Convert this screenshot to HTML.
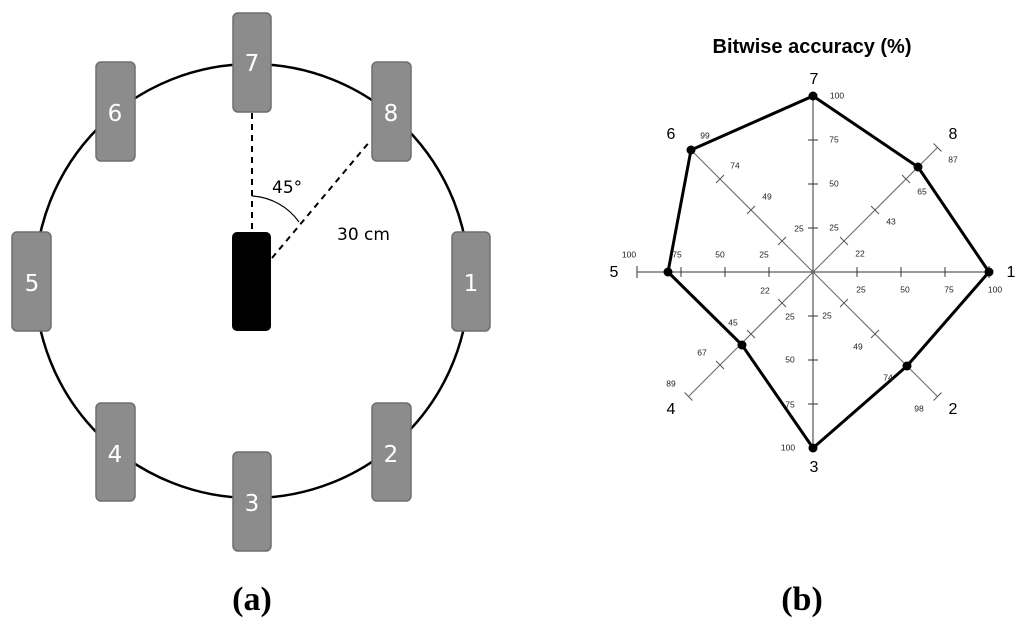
<!DOCTYPE html>
<html><head><meta charset="utf-8"><style>
html,body{margin:0;padding:0;background:#fff;}
svg{display:block;}
</style></head><body>
<svg width="1024" height="626" viewBox="0 0 1024 626" xmlns="http://www.w3.org/2000/svg">
<!-- Left diagram -->
<circle cx="252" cy="281" r="217" fill="none" stroke="#000" stroke-width="2.5"/>
<line x1="252" y1="113" x2="252" y2="231" stroke="#000" stroke-width="2" stroke-dasharray="6,5"/>
<line x1="272" y1="258" x2="371" y2="140" stroke="#000" stroke-width="2" stroke-dasharray="6,5"/>
<path d="M252 196 A62 62 0 0 1 299 222" fill="none" stroke="#000" stroke-width="1.2"/>
<g fill="#8c8c8c" stroke="#6e6e6e" stroke-width="1.5">
<rect x="233" y="13" width="38" height="99" rx="5"/>
<rect x="96" y="62" width="39" height="99" rx="5"/>
<rect x="372" y="62" width="39" height="99" rx="5"/>
<rect x="12" y="232" width="39" height="99" rx="5"/>
<rect x="452" y="232" width="38" height="99" rx="5"/>
<rect x="96" y="403" width="39" height="98" rx="5"/>
<rect x="372" y="403" width="39" height="98" rx="5"/>
<rect x="233" y="452" width="38" height="99" rx="5"/>
</g>
<rect x="232" y="232" width="39" height="99" rx="5" fill="#000"/>
<g font-family="DejaVu Sans, Liberation Sans, sans-serif" font-size="23" fill="#fff" text-anchor="middle">
<text x="252" y="71">7</text>
<text x="115" y="121">6</text>
<text x="391" y="121">8</text>
<text x="32" y="291">5</text>
<text x="471" y="291">1</text>
<text x="115" y="462">4</text>
<text x="391" y="462">2</text>
<text x="252" y="511">3</text>
</g>
<g font-family="DejaVu Sans, Liberation Sans, sans-serif" font-size="17" fill="#000">
<text x="272" y="193">45°</text>
<text x="337" y="240">30 cm</text>
</g>
<text x="252" y="610" text-anchor="middle" font-family="Liberation Serif, serif" font-size="34" font-weight="bold">(a)</text>
<text x="802" y="610" text-anchor="middle" font-family="Liberation Serif, serif" font-size="34" font-weight="bold">(b)</text>

<!-- Radar -->
<text x="812" y="53" text-anchor="middle" font-family="Liberation Sans, sans-serif" font-size="20" font-weight="bold">Bitwise accuracy (%)</text>
<g stroke="#333" stroke-width="1" fill="none">
<line x1="637" y1="272" x2="989" y2="272"/>
<line x1="813" y1="96" x2="813" y2="448"/>
<line x1="688.5" y1="147.5" x2="937.5" y2="396.5" stroke="#666"/>
<line x1="688.5" y1="396.5" x2="937.5" y2="147.5" stroke="#666"/>
<path d="M637 266V278 M681 267V277 M725 267V277 M769 267V277 M857 267V277 M901 267V277 M945 267V277 M989 266V278
M808 140H818 M808 184H818 M808 228H818 M808 316H818 M808 360H818 M808 404H818"/>
</g>
<g stroke="#555" stroke-width="1" fill="none">
<path d="M840 237l8 8 M871 206l8 8 M902 175l8 8 M933.5 143.5l8 8
M778 245l8 -8 M747 214l8 -8 M716 183l8 -8
M778 299l8 8 M747 330l8 8 M716 361l8 8 M684.5 392.5l8 8
M840 307l8 -8 M871 338l8 -8 M902 369l8 -8 M933.5 400.5l8 -8"/>
</g>
<polygon points="989,272 907,366 813,448 742,345 668,272 691,150 813,96 918,167" fill="none" stroke="#000" stroke-width="3" stroke-linejoin="round"/>
<g fill="#000">
<circle cx="989" cy="272" r="4.5"/><circle cx="907" cy="366" r="4.5"/><circle cx="813" cy="448" r="4.5"/><circle cx="742" cy="345" r="4.5"/>
<circle cx="668" cy="272" r="4.5"/><circle cx="691" cy="150" r="4.5"/><circle cx="813" cy="96" r="4.5"/><circle cx="918" cy="167" r="4.5"/>
</g>
<g font-family="Liberation Sans, sans-serif" font-size="16" text-anchor="middle" dominant-baseline="middle">
<text x="1011" y="273">1</text><text x="614" y="273">5</text><text x="814" y="80">7</text><text x="814" y="468">3</text>
<text x="953" y="135">8</text><text x="671" y="135">6</text><text x="671" y="410">4</text><text x="953" y="410">2</text>
</g>
<g font-family="Liberation Sans, sans-serif" font-size="8.5" fill="#222" text-anchor="middle" dominant-baseline="middle">
<text x="837" y="96">100</text><text x="834" y="140">75</text><text x="834" y="184">50</text><text x="834" y="228">25</text><text x="799" y="229">25</text>
<text x="861" y="290">25</text><text x="905" y="290">50</text><text x="949" y="290">75</text><text x="995" y="290">100</text>
<text x="629" y="255">100</text><text x="677" y="255">75</text><text x="720" y="255">50</text><text x="764" y="255">25</text>
<text x="827" y="316">25</text><text x="790" y="317">25</text><text x="790" y="360">50</text><text x="790" y="405">75</text><text x="788" y="448">100</text>
<text x="953" y="160">87</text><text x="922" y="192">65</text><text x="891" y="222">43</text><text x="860" y="254">22</text>
<text x="705" y="136">99</text><text x="735" y="166">74</text><text x="767" y="197">49</text>
<text x="765" y="291">22</text><text x="733" y="323">45</text><text x="702" y="353">67</text><text x="671" y="384">89</text>
<text x="858" y="347">49</text><text x="888" y="378">74</text><text x="919" y="409">98</text>
</g>
</svg>
</body></html>
